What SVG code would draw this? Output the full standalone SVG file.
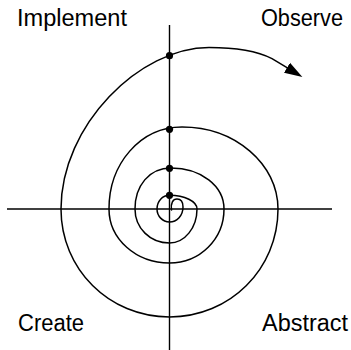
<svg xmlns="http://www.w3.org/2000/svg" width="351" height="350" viewBox="0 0 351 350">
<style>
.axis{stroke:#000;stroke-width:1.4;fill:none}
.spiral{stroke:#000;stroke-width:1.5;fill:none;stroke-linecap:round}
.dot{fill:#000}
.lbl{font-family:"Liberation Sans","DejaVu Sans",sans-serif;font-size:23px;fill:#000}
</style>
<defs>
<marker id="arrow" markerUnits="userSpaceOnUse" markerWidth="20" markerHeight="14" viewBox="0 -7 20 14" refX="0" refY="0" orient="auto">
<path d="M0,-5.8 L18,0 L0,5.8 z" fill="#000"/>
</marker>
</defs>
<g id="connectors">
<line class="axis" x1="169.5" y1="25" x2="169.5" y2="350"/>
<line class="axis" x1="7" y1="209" x2="332" y2="209"/>
<path class="spiral" marker-end="url(#arrow)" d="M171.5,210 C170.5,203 173,199 177,199 C181,199 183,202.5 183,207 C183,215.5 177,222 169.5,222 C162.5,222 157,216 157,209 C157,201.3 162.5,195.3 169.5,195.3 C184.5,195.3 197,201.3 197,209 C197,228 184.5,243 169.5,243 C150,243 135,228 135,209 C135,186 149,168 171,168 C201,168 224,186 224,209 C224,239 200,263 169.5,263 C136,263 109,239 109,209 C109,164 140,127 182,127 C235,127 278,164 278,209 C278,269 230,317 169.5,317 C109,317 61,269 61,209 C61,125 140,47.5 209,47.5 C236,47.5 257,51 272,58.6 L287,67.7"/>
</g>
<g id="dots">
<circle class="dot" cx="169.5" cy="55.7" r="3.6"/>
<circle class="dot" cx="169.5" cy="129.3" r="3.6"/>
<circle class="dot" cx="169.5" cy="168.3" r="3.6"/>
<circle class="dot" cx="169.5" cy="195.3" r="3.6"/>
</g>
<g id="implement"><text class="lbl" x="17" y="26" textLength="110" lengthAdjust="spacingAndGlyphs">Implement</text></g>
<g id="observe"><text class="lbl" x="261" y="26" textLength="82" lengthAdjust="spacingAndGlyphs">Observe</text></g>
<g id="create"><text class="lbl" x="18" y="330.5" textLength="66" lengthAdjust="spacingAndGlyphs">Create</text></g>
<g id="abstract"><text class="lbl" x="262" y="330.5" textLength="86" lengthAdjust="spacingAndGlyphs">Abstract</text></g>
</svg>
